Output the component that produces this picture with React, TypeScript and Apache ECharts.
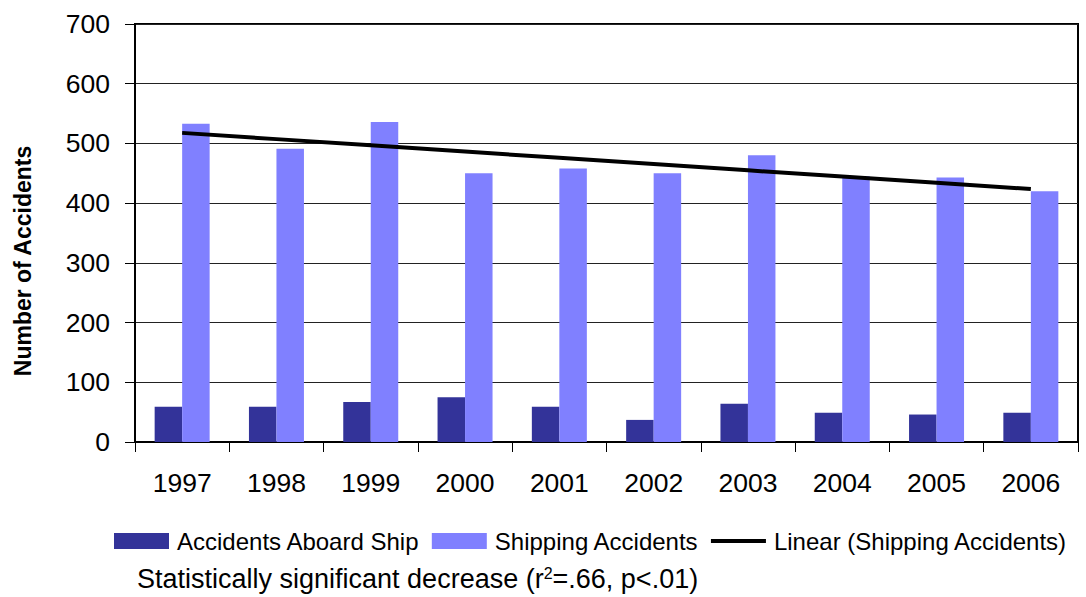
import React, { useEffect, useRef } from "react";
import * as echarts from "echarts";

const years = ["1997", "1998", "1999", "2000", "2001", "2002", "2003", "2004", "2005", "2006"];
const aboardShip = [59, 59, 67, 75, 59, 37, 64, 49, 46, 49];
const shippingAccidents = [533, 491, 536, 450, 458, 450, 480, 445, 443, 420];
const yTicks = [0, 100, 200, 300, 400, 500, 600, 700];

// Excel-style least-squares linear trendline over the shipping accident series
function linearTrend(values: number[]): number[] {
  const n = values.length;
  const mx = (n - 1) / 2;
  const my = values.reduce((a, b) => a + b, 0) / n;
  let sxy = 0;
  let sxx = 0;
  values.forEach((v, i) => {
    sxy += (i - mx) * (v - my);
    sxx += (i - mx) * (i - mx);
  });
  const slope = sxy / sxx;
  return values.map((_, i) => +(my + slope * (i - mx)).toFixed(2));
}

const FONT = "Liberation Sans, Arial, sans-serif";

export default function App() {
  const ref = useRef<HTMLDivElement>(null);
  useEffect(() => {
    if (!ref.current) return;
    const chart = echarts.init(ref.current, undefined, { renderer: "svg" });
    const trend = linearTrend(shippingAccidents);
    chart.setOption({
      animation: false,
      backgroundColor: "#ffffff",
      textStyle: { fontFamily: FONT },
      grid: { left: 135, top: 24, right: 8, bottom: 155, show: true, borderColor: "#000", borderWidth: 2, backgroundColor: "transparent" },
      legend: {
        left: 114,
        top: 529,
        width: 972,
        itemWidth: 55,
        itemHeight: 16,
        itemGap: 12,
        padding: 0,
        symbolKeepAspect: true,
        textStyle: { fontFamily: FONT, fontSize: 24, color: "#000", padding: [0, 0, 0, 3] },
        data: [
          { name: "Accidents Aboard Ship", icon: "rect" },
          { name: "Shipping Accidents", icon: "rect" },
          { name: "Linear (Shipping Accidents)", icon: "path://M0,0 H55 V4 H0 Z", itemStyle: { color: "#000" } },
        ],
      },
      xAxis: {
        type: "category",
        data: years,
        boundaryGap: true,
        axisLine: { lineStyle: { color: "#000", width: 2 } },
        axisTick: { show: true, length: 10, lineStyle: { color: "#000", width: 1 } },
        axisLabel: { fontFamily: FONT, fontSize: 26.5, color: "#000", margin: 27 },
      },
      yAxis: {
        type: "value",
        min: yTicks[0],
        max: yTicks[yTicks.length - 1],
        interval: 100,
        axisLine: { show: true, lineStyle: { color: "#000", width: 2 } },
        axisTick: { show: true, length: 10, lineStyle: { color: "#000", width: 1 } },
        axisLabel: { fontFamily: FONT, fontSize: 26.5, color: "#000", margin: 25 },
        splitLine: { show: true, lineStyle: { color: "#222", width: 1 } },
      },
      series: [
        {
          name: "Accidents Aboard Ship",
          type: "bar",
          data: aboardShip,
          barWidth: 27.5,
          barGap: "0%",
          itemStyle: { color: "#333399" },
        },
        {
          name: "Shipping Accidents",
          type: "bar",
          data: shippingAccidents,
          barWidth: 27.5,
          barGap: "0%",
          itemStyle: { color: "#8080FF" },
        },
        {
          name: "Linear (Shipping Accidents)",
          type: "line",
          data: trend,
          symbol: "none",
          z: 5,
          lineStyle: { color: "#000", width: 4 },
          itemStyle: { color: "#000" },
        },
      ],
      graphic: [
        {
          type: "text",
          x: 23,
          y: 261,
          rotation: Math.PI / 2,
          style: {
            text: "Number of Accidents",
            fontFamily: FONT,
            fontSize: 23,
            fontWeight: "bold",
            fill: "#000",
            align: "center",
            verticalAlign: "middle",
          },
        },
        {
          type: "text",
          left: 137,
          top: 565,
          style: {
            text: "Statistically significant decrease (r{sup|2}=.66, p<.01)",
            rich: {
              sup: { fontSize: 16, verticalAlign: "top", lineHeight: 16, padding: [0, 0, 11, 0], fontFamily: FONT, fill: "#000" },
            },
            fontFamily: FONT,
            fontSize: 27,
            fill: "#000",
          },
        },
      ],
    });
    return () => chart.dispose();
  }, []);
  return <div ref={ref} style={{ position: "absolute", left: 0, top: 0, width: 1086, height: 597 }} />;
}
